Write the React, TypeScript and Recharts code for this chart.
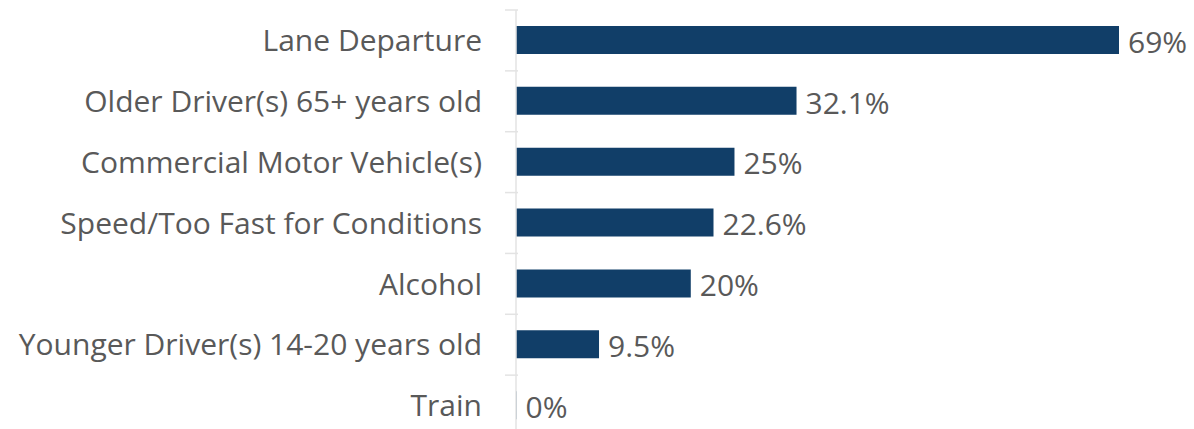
import React from 'react';
import { BarChart, Bar, XAxis, YAxis, LabelList } from 'recharts';

const categories = [
  'Lane Departure',
  'Older Driver(s) 65+ years old',
  'Commercial Motor Vehicle(s)',
  'Speed/Too Fast for Conditions',
  'Alcohol',
  'Younger Driver(s) 14-20 years old',
  'Train',
];
const values = [69, 32.1, 25, 22.6, 20, 9.5, 0];
const valueLabels = ['69%', '32.1%', '25%', '22.6%', '20%', '9.5%', '0%'];

const data = categories.map((name, i) => ({ name, value: values[i], label: valueLabels[i] }));

const CHART_H = 436;
const TOP = 10;
const BAND = (CHART_H - TOP) / categories.length;
const FONT = '"Open Sans", "Segoe UI", sans-serif';

const CategoryTick = (props: any) => {
  const { x, y, payload, index } = props;
  return (
    <g>
      <text
        x={482}
        y={y}
        dy="0.355em"
        textAnchor="end"
        fill="#595959"
        fontSize={30}
        fontFamily={FONT}
      >
        {payload.value}
      </text>
      <line x1={505} x2={x + 10} y1={y - BAND / 2} y2={y - BAND / 2} stroke="#e3e3e3" strokeWidth={1.5} />
      {index === categories.length - 1 && (
        <line x1={505} x2={x + 10} y1={y + BAND / 2} y2={y + BAND / 2} stroke="#e3e3e3" strokeWidth={1.5} />
      )}
    </g>
  );
};

const App: React.FC = () => {
  return (
    <div style={{ position: 'fixed', left: 0, top: 0, width: 1194, height: 429, overflow: 'hidden', background: '#fff' }}>
      <BarChart
        width={1194}
        height={CHART_H}
        data={data}
        layout="vertical"
        margin={{ top: TOP, right: 75, left: 0, bottom: 0 }}
        barSize={28}
      >
        <XAxis type="number" domain={[0, 69]} hide />
        <Bar
          dataKey="value"
          fill="#113e68"
          isAnimationActive={false}
          minPointSize={(v: number) => (v === 0 ? 0.5 : 0)}
        >
          <LabelList
            dataKey="label"
            position="right"
            offset={9}
            fill="#595959"
            fontSize={30}
            fontFamily={FONT}
            dy={2}
          />
        </Bar>
        <YAxis
          type="category"
          dataKey="name"
          width={516}
          axisLine={{ stroke: '#e3e3e3', strokeWidth: 1.5 }}
          tickLine={false}
          tick={<CategoryTick />}
          interval={0}
        />
      </BarChart>
    </div>
  );
};

export default App;
